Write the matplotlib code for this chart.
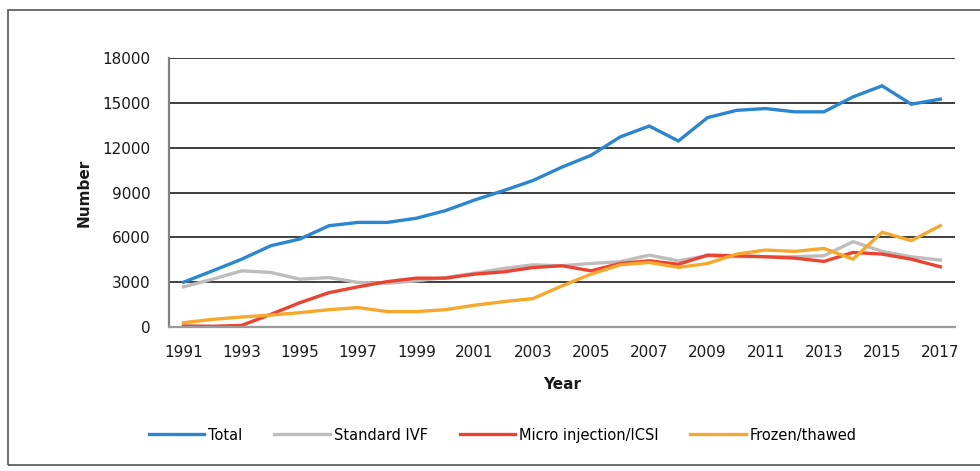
import numpy as np
import matplotlib
matplotlib.use("Agg")
import matplotlib.pyplot as plt
from matplotlib.patches import Rectangle

years = np.arange(1991, 2018)

total = [3000, 3760, 4540, 5440, 5890, 6780, 7000, 7000, 7280, 7790,
         8500, 9130, 9800, 10700, 11490, 12720, 13450, 12450, 14010, 14500,
         14620, 14400, 14400, 15400, 16140, 14910, 15250]
standard_ivf = [2690, 3200, 3760, 3650, 3200, 3310, 2980, 2930, 3090, 3310,
                3600, 3920, 4160, 4100, 4250, 4370, 4810, 4430, 4770, 4700,
                4700, 4700, 4770, 5710, 5060, 4700, 4480]
icsi = [70, 50, 110, 850, 1630, 2300, 2690, 3040, 3270, 3270,
        3540, 3690, 3980, 4100, 3760, 4250, 4430, 4200, 4810, 4770,
        4700, 4610, 4390, 4990, 4880, 4540, 4030]
frozen = [290, 510, 670, 800, 960, 1160, 1300, 1030, 1030, 1160,
          1460, 1700, 1900, 2750, 3540, 4160, 4320, 3990, 4250, 4880,
          5150, 5060, 5260, 4540, 6340, 5780, 6780]

labels = ['Total', 'Standard IVF', 'Micro injection/ICSI', 'Frozen/thawed']
colors = ['#2B86D2', '#BDBDBD', '#EA4431', '#F6A82C']

plt.rcParams['font.family'] = 'DejaVu Sans'

fig = plt.figure(figsize=(9.8, 4.71), dpi=100)
ax = fig.add_axes([0.1724, 0.3057, 0.802, 0.5711])

# outer frame
fig.patches.append(Rectangle((0.008, 0.013), 1.05, 0.965, transform=fig.transFigure,
                             fill=False, edgecolor='#555555', linewidth=1.2))

for y, c, lab in zip([total, standard_ivf, icsi, frozen], colors, labels):
    ax.plot(years, y, color=c, linewidth=2.4, label=lab, solid_joinstyle='miter')

ax.set_xlim(1990.5, 2017.5)
ax.set_ylim(0, 18000)
ax.set_yticks(np.arange(0, 18001, 3000))
ax.set_xticks(years[::2])
ax.yaxis.grid(True, color='#1e1e1e', linewidth=1.2)
ax.set_axisbelow(True)

for s in ['top', 'right']:
    ax.spines[s].set_visible(False)
ax.spines['left'].set_color('#808080')
ax.spines['left'].set_linewidth(1.6)
ax.spines['bottom'].set_color('#9a9a9a')
ax.spines['bottom'].set_linewidth(1.6)
ax.tick_params(axis='both', length=0, labelsize=11, colors='#1a1a1a')
ax.tick_params(axis='y', pad=13)
ax.tick_params(axis='x', pad=13)

ax.set_ylabel('Number', fontsize=11, fontweight='bold', color='#1a1a1a')
ax.set_xlabel('Year', fontsize=11, fontweight='bold', color='#1a1a1a')
ax.yaxis.set_label_coords(-0.099, 0.5)
ax.xaxis.set_label_coords(0.5, -0.185)

fig.legend(loc='center', bbox_to_anchor=(0.513, 0.0764), ncol=4, frameon=False,
           fontsize=10.5, handlelength=3.8, handletextpad=0.25, columnspacing=2.2)

fig.savefig('out.png', dpi=100)
